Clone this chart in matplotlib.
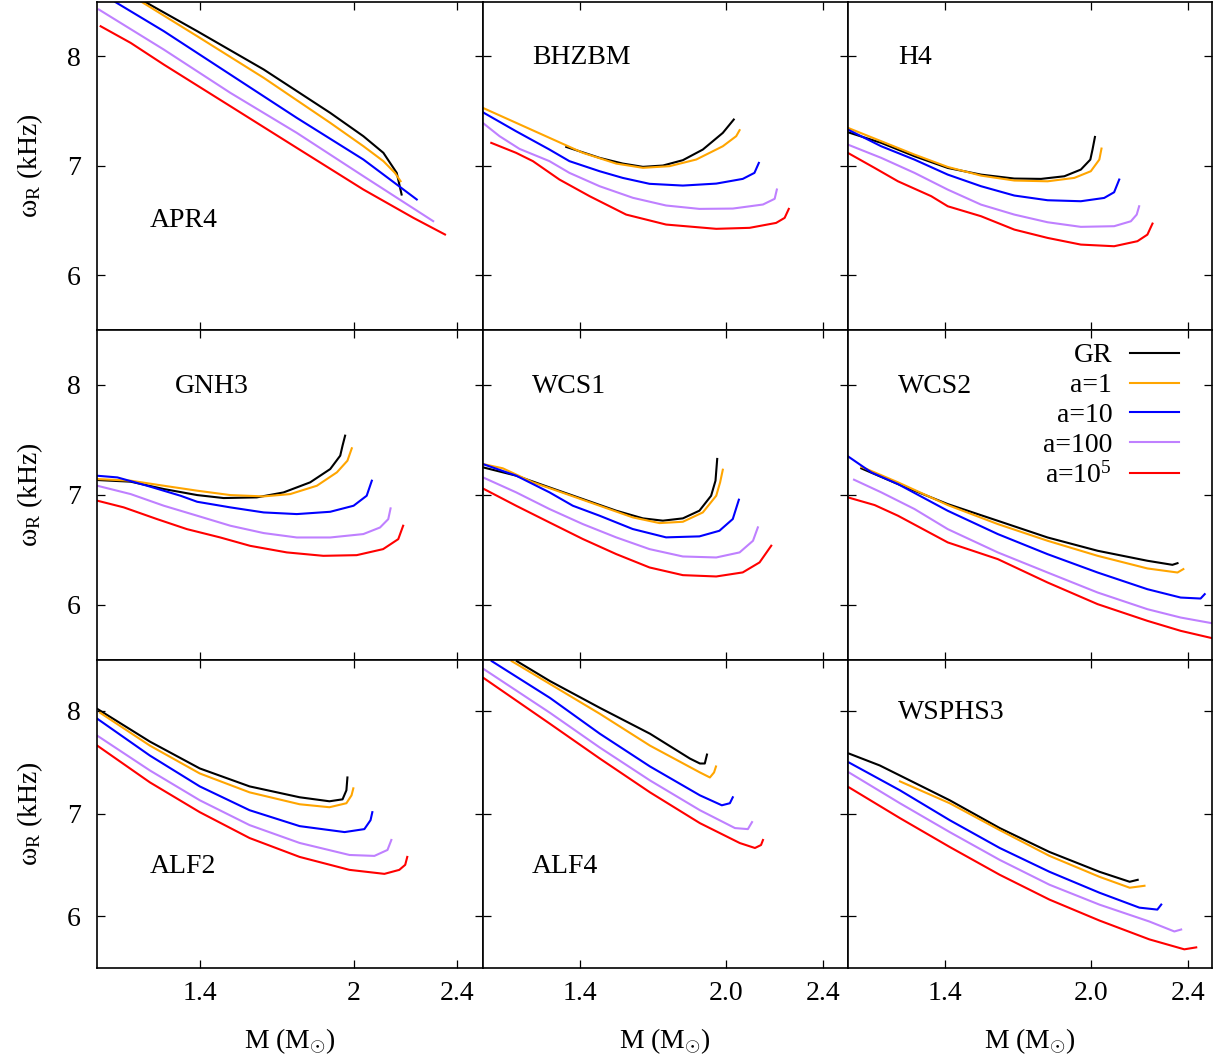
import matplotlib.pyplot as plt

plt.rcParams['font.family'] = ['Liberation Serif', 'DejaVu Serif']
plt.rcParams['mathtext.fontset'] = 'custom'
plt.rcParams['mathtext.rm'] = 'Liberation Serif'
plt.rcParams['mathtext.it'] = 'Liberation Serif:italic'
plt.rcParams['mathtext.bf'] = 'Liberation Serif:bold'

# curve order in every panel: GR, a=1, a=10, a=100, a=1e5
labels = ['GR', 'a=1', 'a=10', 'a=100', 'a=10$^5$']
colors = ['black', '#FFA500', '#0000FF', '#BF80FF', '#FF0000']

# (M [Msun], omega_R [kHz]) points for each equation of state
apr4 = [
    [(1.181, 8.503), (1.389, 8.229), (1.648, 7.879), (1.907, 7.483), (2.036, 7.270), (2.114, 7.118), (2.166, 6.935), (2.185, 6.737)],
    [(1.168, 8.503), (1.389, 8.183), (1.648, 7.803), (1.907, 7.392), (2.036, 7.179), (2.114, 7.042), (2.159, 6.935), (2.181, 6.859)],
    [(1.071, 8.494), (1.259, 8.229), (1.518, 7.833), (1.777, 7.437), (2.036, 7.057), (2.244, 6.692)],
    [(1.006, 8.427), (1.259, 8.061), (1.518, 7.666), (1.777, 7.300), (2.036, 6.905), (2.308, 6.494)],
    [(1.013, 8.274), (1.130, 8.122), (1.259, 7.924), (1.518, 7.544), (1.777, 7.163), (2.036, 6.783), (2.231, 6.524), (2.354, 6.372)],
]
bhzbm = [
    [(1.344, 7.172), (1.481, 7.072), (1.576, 7.020), (1.659, 6.990), (1.741, 7.002), (1.823, 7.051), (1.905, 7.148), (1.987, 7.300), (2.032, 7.422)],
    [(1.001, 7.529), (1.138, 7.392), (1.275, 7.255), (1.412, 7.118), (1.549, 7.020), (1.659, 6.981), (1.768, 6.996), (1.878, 7.057), (1.987, 7.178), (2.042, 7.270), (2.056, 7.325)],
    [(1.001, 7.489), (1.138, 7.315), (1.275, 7.148), (1.357, 7.042), (1.481, 6.950), (1.576, 6.889), (1.686, 6.835), (1.823, 6.819), (1.960, 6.837), (2.069, 6.880), (2.117, 6.935), (2.135, 7.026)],
    [(1.001, 7.392), (1.070, 7.270), (1.152, 7.154), (1.275, 7.042), (1.357, 6.935), (1.481, 6.813), (1.618, 6.707), (1.754, 6.637), (1.891, 6.606), (2.028, 6.609), (2.152, 6.646), (2.200, 6.698), (2.209, 6.783)],
    [(1.036, 7.209), (1.138, 7.118), (1.207, 7.042), (1.316, 6.874), (1.440, 6.722), (1.590, 6.554), (1.754, 6.463), (1.960, 6.424), (2.097, 6.433), (2.206, 6.478), (2.241, 6.524), (2.258, 6.606)],
]
h4 = [
    [(1.001, 7.306), (1.138, 7.209), (1.275, 7.087), (1.412, 6.980), (1.549, 6.919), (1.686, 6.883), (1.796, 6.880), (1.892, 6.904), (1.960, 6.965), (1.999, 7.056), (2.008, 7.148), (2.018, 7.263)],
    [(1.001, 7.346), (1.138, 7.224), (1.275, 7.102), (1.412, 6.989), (1.549, 6.910), (1.686, 6.865), (1.823, 6.858), (1.933, 6.889), (2.001, 6.950), (2.036, 7.056), (2.045, 7.157)],
    [(1.001, 7.330), (1.138, 7.178), (1.275, 7.056), (1.412, 6.919), (1.549, 6.813), (1.686, 6.728), (1.823, 6.685), (1.960, 6.676), (2.056, 6.706), (2.097, 6.758), (2.118, 6.874)],
    [(1.001, 7.193), (1.138, 7.072), (1.275, 6.935), (1.412, 6.782), (1.549, 6.645), (1.686, 6.554), (1.823, 6.484), (1.960, 6.442), (2.097, 6.448), (2.166, 6.493), (2.190, 6.554), (2.200, 6.630)],
    [(1.001, 7.117), (1.111, 6.980), (1.207, 6.858), (1.344, 6.722), (1.412, 6.630), (1.549, 6.539), (1.686, 6.417), (1.823, 6.341), (1.960, 6.280), (2.097, 6.265), (2.193, 6.311), (2.234, 6.371), (2.255, 6.472)],
]
gnh3 = [
    [(1.000, 7.134), (1.130, 7.119), (1.259, 7.052), (1.389, 6.997), (1.492, 6.970), (1.621, 6.976), (1.725, 7.021), (1.829, 7.113), (1.907, 7.234), (1.946, 7.356), (1.955, 7.447), (1.965, 7.538)],
    [(1.000, 7.143), (1.130, 7.128), (1.259, 7.082), (1.389, 7.037), (1.518, 6.997), (1.648, 6.985), (1.751, 7.006), (1.855, 7.082), (1.933, 7.204), (1.974, 7.310), (1.991, 7.423)],
    [(1.000, 7.173), (1.078, 7.158), (1.194, 7.082), (1.324, 6.991), (1.389, 6.936), (1.518, 6.885), (1.648, 6.839), (1.777, 6.824), (1.907, 6.845), (1.998, 6.900), (2.049, 6.991), (2.069, 7.128)],
    [(1.000, 7.082), (1.130, 7.006), (1.259, 6.900), (1.389, 6.809), (1.518, 6.718), (1.648, 6.651), (1.777, 6.611), (1.907, 6.611), (2.036, 6.642), (2.101, 6.702), (2.133, 6.778), (2.142, 6.876)],
    [(1.000, 6.946), (1.103, 6.885), (1.233, 6.778), (1.349, 6.687), (1.479, 6.611), (1.595, 6.535), (1.738, 6.475), (1.880, 6.444), (2.010, 6.450), (2.113, 6.505), (2.172, 6.596), (2.191, 6.718)],
]
wcs1 = [
    [(1.001, 7.250), (1.138, 7.174), (1.275, 7.067), (1.412, 6.961), (1.549, 6.855), (1.659, 6.785), (1.741, 6.764), (1.823, 6.785), (1.891, 6.855), (1.939, 6.991), (1.957, 7.128), (1.964, 7.326)],
    [(1.001, 7.280), (1.083, 7.241), (1.207, 7.113), (1.344, 7.007), (1.481, 6.900), (1.617, 6.794), (1.727, 6.742), (1.823, 6.754), (1.905, 6.839), (1.960, 6.991), (1.976, 7.113), (1.987, 7.228)],
    [(1.001, 7.280), (1.138, 7.174), (1.275, 7.022), (1.371, 6.900), (1.481, 6.809), (1.617, 6.688), (1.754, 6.612), (1.891, 6.621), (1.973, 6.672), (2.028, 6.779), (2.053, 6.955)],
    [(1.001, 7.159), (1.138, 7.022), (1.275, 6.870), (1.412, 6.733), (1.549, 6.612), (1.686, 6.505), (1.823, 6.438), (1.960, 6.429), (2.056, 6.475), (2.111, 6.581), (2.131, 6.703)],
    [(1.001, 7.058), (1.138, 6.900), (1.275, 6.748), (1.412, 6.597), (1.549, 6.460), (1.686, 6.338), (1.823, 6.268), (1.960, 6.256), (2.069, 6.293), (2.138, 6.384), (2.186, 6.536)],
]
wcs2 = [
    [(1.056, 7.240), (1.207, 7.097), (1.412, 6.915), (1.618, 6.763), (1.823, 6.611), (2.029, 6.490), (2.234, 6.399), (2.337, 6.362), (2.358, 6.377)],
    [(1.056, 7.255), (1.207, 7.113), (1.412, 6.906), (1.618, 6.733), (1.823, 6.581), (2.029, 6.444), (2.234, 6.329), (2.358, 6.292), (2.382, 6.323)],
    [(1.001, 7.350), (1.097, 7.204), (1.207, 7.097), (1.412, 6.854), (1.618, 6.642), (1.823, 6.459), (2.029, 6.292), (2.234, 6.140), (2.371, 6.064), (2.453, 6.055), (2.470, 6.095)],
    [(1.026, 7.137), (1.138, 7.022), (1.275, 6.870), (1.412, 6.687), (1.618, 6.475), (1.823, 6.292), (2.029, 6.110), (2.234, 5.958), (2.371, 5.882), (2.501, 5.830)],
    [(1.001, 6.976), (1.111, 6.906), (1.207, 6.809), (1.412, 6.566), (1.618, 6.414), (1.823, 6.201), (2.029, 6.004), (2.234, 5.852), (2.371, 5.761), (2.501, 5.694)],
]
alf2 = [
    [(1.000, 8.019), (1.205, 7.700), (1.399, 7.439), (1.593, 7.264), (1.788, 7.158), (1.904, 7.119), (1.955, 7.138), (1.970, 7.226), (1.974, 7.351)],
    [(1.011, 7.981), (1.205, 7.661), (1.399, 7.390), (1.593, 7.206), (1.788, 7.090), (1.904, 7.061), (1.970, 7.100), (1.990, 7.177), (1.997, 7.245)],
    [(1.000, 7.923), (1.205, 7.564), (1.399, 7.264), (1.593, 7.032), (1.788, 6.877), (1.963, 6.819), (2.040, 6.848), (2.064, 6.935), (2.071, 7.013)],
    [(1.000, 7.758), (1.205, 7.419), (1.399, 7.129), (1.593, 6.887), (1.788, 6.713), (1.982, 6.596), (2.079, 6.587), (2.130, 6.645), (2.145, 6.742)],
    [(1.000, 7.661), (1.205, 7.303), (1.399, 7.013), (1.593, 6.761), (1.788, 6.577), (1.982, 6.451), (2.118, 6.412), (2.176, 6.451), (2.199, 6.500), (2.207, 6.577)],
]
alf4 = [
    [(1.141, 8.484), (1.277, 8.290), (1.482, 8.029), (1.688, 7.777), (1.852, 7.535), (1.893, 7.487), (1.913, 7.487), (1.922, 7.574)],
    [(1.120, 8.484), (1.482, 7.971), (1.688, 7.661), (1.893, 7.400), (1.934, 7.351), (1.951, 7.400), (1.959, 7.458)],
    [(1.038, 8.484), (1.277, 8.126), (1.482, 7.777), (1.688, 7.458), (1.893, 7.177), (1.983, 7.080), (2.016, 7.100), (2.028, 7.158)],
    [(1.005, 8.407), (1.277, 7.981), (1.482, 7.642), (1.688, 7.322), (1.893, 7.032), (2.037, 6.858), (2.090, 6.848), (2.107, 6.916)],
    [(1.005, 8.319), (1.277, 7.874), (1.482, 7.535), (1.688, 7.206), (1.893, 6.906), (2.057, 6.712), (2.119, 6.664), (2.144, 6.693), (2.152, 6.742)],
]
wsphs3 = [
    [(1.005, 7.584), (1.132, 7.468), (1.420, 7.129), (1.626, 6.858), (1.831, 6.625), (2.037, 6.432), (2.161, 6.335), (2.194, 6.354)],
    [(1.215, 7.313), (1.420, 7.100), (1.626, 6.838), (1.831, 6.587), (2.037, 6.383), (2.161, 6.277), (2.222, 6.296)],
    [(1.005, 7.497), (1.215, 7.226), (1.420, 6.935), (1.626, 6.664), (1.831, 6.432), (2.037, 6.228), (2.201, 6.083), (2.275, 6.064), (2.291, 6.113)],
    [(1.005, 7.400), (1.215, 7.100), (1.420, 6.819), (1.626, 6.548), (1.831, 6.306), (2.037, 6.112), (2.242, 5.948), (2.345, 5.851), (2.373, 5.870)],
    [(1.005, 7.255), (1.215, 6.955), (1.420, 6.674), (1.626, 6.403), (1.831, 6.161), (2.037, 5.957), (2.242, 5.774), (2.386, 5.677), (2.435, 5.696)],
]

panels = [
    ('APR4', apr4, (0.137, 0.332)), ('BHZBM', bhzbm, (0.136, 0.831)), ('H4', h4, (0.138, 0.831)),
    ('GNH3', gnh3, (0.202, 0.830)), ('WCS1', wcs1, (0.136, 0.830)), ('WCS2', wcs2, (0.138, 0.830)),
    ('ALF2', alf2, (0.137, 0.329)), ('ALF4', alf4, (0.136, 0.329)), ('WSPHS3', wsphs3, (0.138, 0.828)),
]

x_ticks = [1.4, 2.0, 2.4]
y_ticks = [6, 7, 8]

W, H = 1216, 1063
fig = plt.figure(figsize=(W / 100, H / 100), dpi=100)

# panel edges in pixels (gnuplot multiplot layout)
col_edges = [(97.3, 482.5), (482.5, 847.7), (847.7, 1212.0)]
row_edges = [(1.5, 330.0), (330.0, 659.5), (659.5, 967.5)]

FS = 20
for i, (name, curves, label_pos) in enumerate(panels):
    r, c = divmod(i, 3)
    x0, x1 = col_edges[c]
    y0, y1 = row_edges[r]
    ax = fig.add_axes([x0 / W, 1 - y1 / H, (x1 - x0) / W, (y1 - y0) / H])

    for pts, lab, col in zip(curves, labels, colors):
        m = [p[0] for p in pts]
        w = [p[1] for p in pts]
        ax.plot(m, w, color=col, lw=1.5, label=lab)

    ax.set_xlim(1.0, 2.5)
    ax.set_ylim(5.5, 8.5)
    ax.set_xticks(x_ticks)
    ax.set_yticks(y_ticks)
    ax.tick_params(direction='in', top=True, right=True, length=6, width=0.9,
                   labelsize=FS)
    ax.tick_params(axis='y', pad=12)
    ax.tick_params(axis='x', pad=10)
    for s in ax.spines.values():
        s.set_linewidth(1.2)

    if c == 0:
        ax.set_yticklabels([str(t) for t in y_ticks])
        ax.set_ylabel('ω$_\\mathrm{R}$ (kHz)', fontsize=FS, labelpad=16)
    else:
        ax.set_yticklabels([])
    if r == 2:
        if c == 0:
            ax.set_xticklabels(['1.4', '2', '2.4'])
        else:
            ax.set_xticklabels(['1.4', '2.0', '2.4'])
        ax.set_xlabel('M (M$_{\\odot}$)', fontsize=FS, labelpad=14)
    else:
        ax.set_xticklabels([])

    ax.text(label_pos[0], label_pos[1], name, transform=ax.transAxes,
            fontsize=FS, ha='left', va='center')

    if name == 'WCS2':
        ax.legend(loc='upper right', bbox_to_anchor=(0.947, 1.003), frameon=False,
                  markerfirst=False, fontsize=FS, borderpad=0, handlelength=1.75,
                  handletextpad=0.65, labelspacing=0.16)

fig.savefig('out.png', dpi=100)
